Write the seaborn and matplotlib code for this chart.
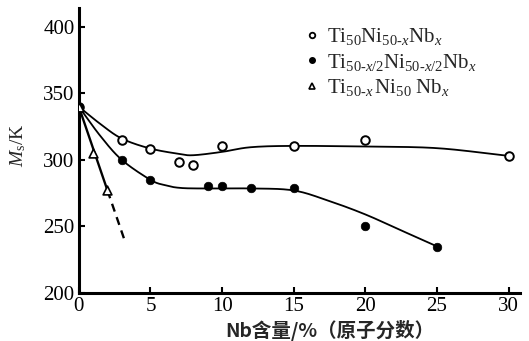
import numpy as np
import pandas as pd
import matplotlib
matplotlib.use("Agg")
import matplotlib.pyplot as plt
from matplotlib.lines import Line2D
import seaborn as sns

# Measured Ms temperatures (K) versus Nb content (at.%)
nb_open = [0, 3, 5, 7, 8, 10, 15, 20, 30]
ms_open = [340, 315, 308.5, 298.5, 296.5, 310.5, 310.5, 315, 303]

nb_fill = [0, 3, 5, 9, 10, 12, 15, 20, 25]
ms_fill = [340, 300, 284.5, 280, 280, 278.5, 278.5, 250.5, 234.5]

nb_tri = [0, 1, 2]
ms_tri = [340, 305.5, 277]

# Trend curves drawn through the data
fit_open_x = [0, 1.5, 3, 5, 7, 8, 10, 12, 15, 20, 25, 30]
fit_open_y = [340, 327, 316, 308.5, 304.5, 303.5, 306, 309.5, 310.5, 310, 308.8, 303]
fit_fill_x = [0, 1.5, 3, 5, 6, 7, 8.5, 12, 15, 17.5, 20, 22.5, 25]
fit_fill_y = [340, 318, 300, 285, 281, 279, 278.5, 278.5, 277, 269, 259, 247, 235]
fit_tri_x = [0, 2]
fit_tri_y = [340, 277]
ext_tri_x = [2, 3.15]
ext_tri_y = [277, 241]

labels = [r'$\mathrm{Ti}_{50}\mathrm{Ni}_{50\text{-}x}\mathrm{Nb}_{x}$',
          r'$\mathrm{Ti}_{50\text{-}x/2}\mathrm{Ni}_{50\text{-}x/2}\mathrm{Nb}_{x}$',
          r'$\mathrm{Ti}_{50\text{-}x}\,\mathrm{Ni}_{50}\ \mathrm{Nb}_{x}$']
x_ticks = [0, 5, 10, 15, 20, 25, 30]
y_ticks = [200, 250, 300, 350, 400]
x_label = 'Nb含量/%（原子分数）'
y_label = r'$M_{\mathrm{s}}$/K'


def smooth(xs, ys, n=20):
    """Catmull-Rom spline through the given knots."""
    p = np.column_stack([xs, ys]).astype(float)
    p = np.vstack([2 * p[0] - p[1], p, 2 * p[-1] - p[-2]])
    out = []
    t = np.linspace(0, 1, n, endpoint=False)[:, None]
    for i in range(1, len(p) - 2):
        p0, p1, p2, p3 = p[i - 1], p[i], p[i + 1], p[i + 2]
        seg = 0.5 * ((2 * p1) + (-p0 + p2) * t + (2 * p0 - 5 * p1 + 4 * p2 - p3) * t ** 2
                     + (-p0 + 3 * p1 - 3 * p2 + p3) * t ** 3)
        out.append(seg)
    out.append(p[-2][None, :])
    arr = np.vstack(out)
    return arr[:, 0], arr[:, 1]


sns.set_theme(style="ticks")
plt.rcParams['font.family'] = ['Liberation Serif', 'Noto Sans CJK SC']
plt.rcParams['mathtext.fontset'] = 'custom'
plt.rcParams['mathtext.rm'] = 'Liberation Serif'
plt.rcParams['mathtext.it'] = 'Liberation Serif:italic'
plt.rcParams['mathtext.bf'] = 'Liberation Serif:bold'

fig = plt.figure(figsize=(5.29, 3.41), dpi=100)
ax = fig.add_axes([0.149, 0.141, 0.834, 0.835])

lw = 1.3
for xs, ys in [(fit_open_x, fit_open_y), (fit_fill_x, fit_fill_y)]:
    sx, sy = smooth(xs, ys)
    sns.lineplot(x=sx, y=sy, ax=ax, color='black', lw=lw, sort=False,
                 estimator=None)
sns.lineplot(x=fit_tri_x, y=fit_tri_y, ax=ax, color='black', lw=lw * 1.3,
             estimator=None)
sns.lineplot(x=ext_tri_x, y=ext_tri_y, ax=ax, color='black', lw=lw * 1.3,
             linestyle=(0, (3.5, 2.5)), estimator=None)

df_open = pd.DataFrame({'x': nb_open, 'y': ms_open})
df_fill = pd.DataFrame({'x': nb_fill, 'y': ms_fill})
df_tri = pd.DataFrame({'x': nb_tri, 'y': ms_tri})
sns.scatterplot(data=df_open, x='x', y='y', ax=ax, marker='o', s=38,
                facecolor='white', edgecolor='black', linewidth=1.4, zorder=3)
sns.scatterplot(data=df_fill, x='x', y='y', ax=ax, marker='o', s=38,
                color='black', edgecolor='black', zorder=3)
sns.scatterplot(data=df_tri, x='x', y='y', ax=ax, marker='^', s=40,
                facecolor='white', edgecolor='black', linewidth=1.2, zorder=3)

ax.set_xlim(0, 30.8)
ax.set_ylim(200, 414)
ax.set_xticks(x_ticks)
ax.set_yticks(y_ticks)
ax.tick_params(direction='in', length=4, width=1.5, labelsize=15,
               colors='black', pad=3)
for s in ['top', 'right']:
    ax.spines[s].set_visible(False)
for s in ['left', 'bottom']:
    ax.spines[s].set_linewidth(2.2)
    ax.spines[s].set_color('black')

ax.set_xlabel(x_label, fontsize=14, family=['Noto Sans CJK SC'],
              fontweight='bold')
ax.xaxis.set_label_coords(0.57, -0.095)
ax.set_ylabel(y_label, fontsize=14)
ax.yaxis.set_label_coords(-0.115, 0.52)

handles = [
    Line2D([], [], marker='o', ls='none', mfc='white', mec='black', mew=1.3, ms=4),
    Line2D([], [], marker='o', ls='none', mfc='black', mec='black', ms=4),
    Line2D([], [], marker='^', ls='none', mfc='white', mec='black', mew=1.2, ms=4),
]
ax.legend(handles, labels, loc='upper right', bbox_to_anchor=(0.92, 0.965),
          frameon=False, fontsize=15, handlelength=0.6, handletextpad=0.4,
          labelspacing=0.2, borderaxespad=0)

fig.savefig('out.png', dpi=100)
